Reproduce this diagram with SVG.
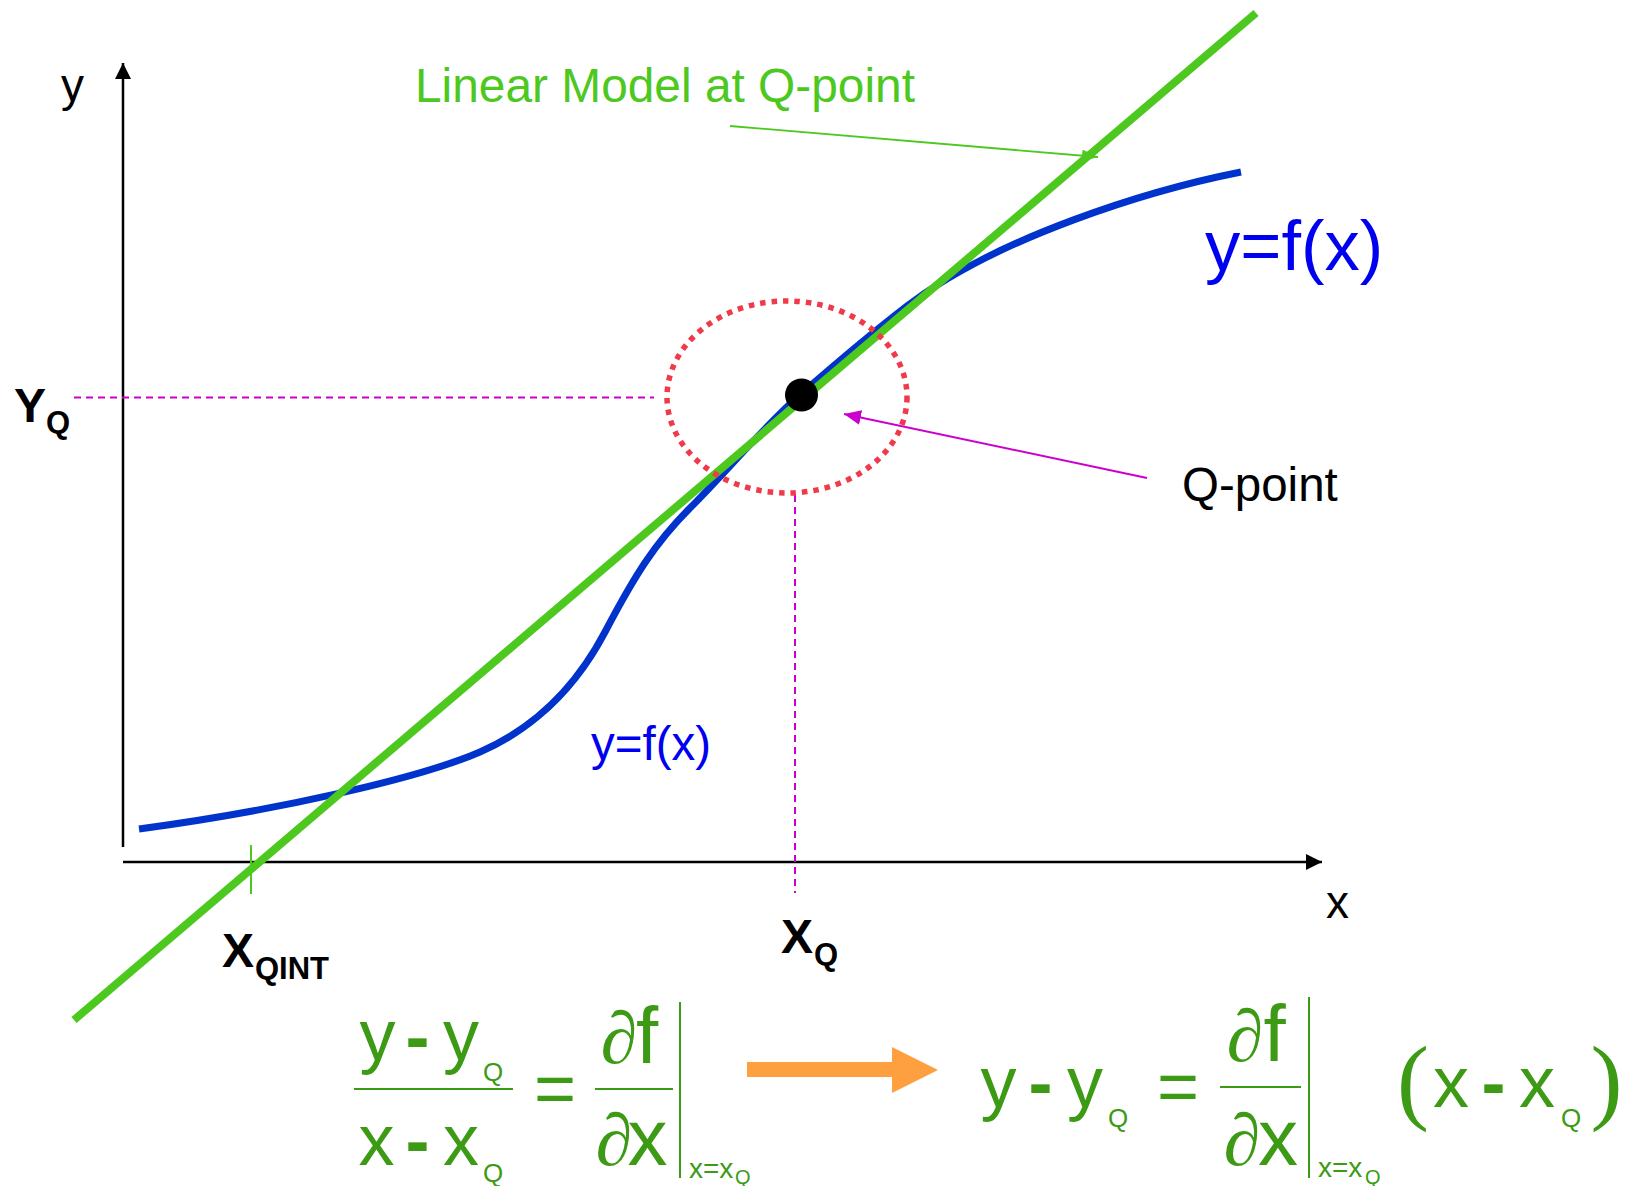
<svg xmlns="http://www.w3.org/2000/svg" width="1635" height="1186" viewBox="0 0 1635 1186">
<defs>
<style>
.lbl{font-family:"Liberation Sans",Arial,sans-serif;fill:#000}
.b{font-weight:bold}
.eq{font-family:"Liberation Sans",Arial,sans-serif;fill:#3D9A15;text-anchor:middle}
.dl{font-family:"Liberation Serif","Times New Roman",serif;fill:#3D9A15;text-anchor:middle}
.big{font-size:72px}
.d{font-size:80px}
.dp{font-size:74px}
.sub{font-size:26px}
.ev{font-family:"Liberation Sans",Arial,sans-serif;fill:#3D9A15;font-size:28px}
.evq{font-family:"Liberation Sans",Arial,sans-serif;fill:#3D9A15;font-size:20px}
.eqline{stroke:#3D9A15;stroke-width:2;fill:none}
.dash{stroke:#CC00CC;stroke-width:2;stroke-dasharray:7 5;fill:none}
.axis{stroke:#000;stroke-width:2.5;fill:none}
</style>
<marker id="arrBlack" markerUnits="userSpaceOnUse" viewBox="0 0 16 16" markerWidth="16" markerHeight="16" refX="16" refY="8" orient="auto"><path d="M0,0 L16,8 L0,16 z" fill="#000"/></marker>
<marker id="arrGreen" markerUnits="userSpaceOnUse" viewBox="0 0 16 12" markerWidth="16" markerHeight="12" refX="16" refY="6" orient="auto"><path d="M0,0 L16,6 L0,12 z" fill="#4CC81E"/></marker>
<marker id="arrMag" markerUnits="userSpaceOnUse" viewBox="0 0 17 15" markerWidth="17" markerHeight="15" refX="17" refY="7.5" orient="auto"><path d="M0,0 L17,7.5 L0,15 z" fill="#CC00CC"/></marker>
</defs>
<rect width="1635" height="1186" fill="#fff"/>

<g id="axes">
<line class="axis" x1="123" y1="847" x2="123" y2="63" marker-end="url(#arrBlack)"/>
<line class="axis" x1="123" y1="862" x2="1322" y2="862" marker-end="url(#arrBlack)"/>
<text class="lbl" x="61" y="101" font-size="46">y</text>
<text class="lbl" x="1326" y="918" font-size="46">x</text>
</g>

<g id="guides">
<line class="dash" x1="74" y1="397.5" x2="654" y2="397.5"/>
<line class="dash" x1="795" y1="495" x2="795" y2="893"/>
<line x1="251" y1="845" x2="251" y2="894" stroke="#4CC81E" stroke-width="2"/>
</g>

<g id="curve">
<path d="M139,829 C280,810 420,778 480,752 C510,739 565,708 605,632 C635,575 655,543 690,508 C725,473 766,424.6 801,394 C836,363.4 872,333 907,306 C997,237 1150,190 1241,172" fill="none" stroke="#0033CC" stroke-width="7"/>
</g>

<g id="linear-model">
<line x1="74" y1="1020" x2="1256" y2="13" stroke="#4CC81E" stroke-width="8"/>
</g>

<g id="q-region">
<ellipse cx="787" cy="397" rx="120" ry="96" fill="none" stroke="#F03A4C" stroke-width="5.5" stroke-dasharray="5.5 6"/>
</g>

<g id="q-point">
<circle cx="801.5" cy="395" r="16.5" fill="#000"/>
</g>

<g id="connectors">
<line x1="730" y1="126" x2="1098" y2="157" stroke="#4CC81E" stroke-width="1.8" marker-end="url(#arrGreen)"/>
<line x1="1147" y1="478" x2="844" y2="414" stroke="#CC00CC" stroke-width="2" marker-end="url(#arrMag)"/>
</g>

<g id="labels">
<text x="415" y="102" font-family="Liberation Sans, Arial, sans-serif" font-size="47.5" fill="#4CC81E" textLength="500" lengthAdjust="spacingAndGlyphs">Linear Model at Q-point</text>
<text class="lbl" x="1182" y="501" font-size="47.5">Q-point</text>
<text x="1205" y="270" font-family="Liberation Sans, Arial, sans-serif" font-size="70.5" fill="#0000F0">y=f(x)</text>
<text x="591" y="760" font-family="Liberation Sans, Arial, sans-serif" font-size="47.5" fill="#0000F0">y=f(x)</text>
<g id="label-yq"><text class="lbl b" x="14" y="422" font-size="48">Y</text><text class="lbl b" x="46" y="433" font-size="31">Q</text></g>
<g id="label-xqint"><text class="lbl b" x="222" y="967" font-size="48">X</text><text class="lbl b" x="255" y="979" font-size="31">QINT</text></g>
<g id="label-xq"><text class="lbl b" x="781" y="953" font-size="48">X</text><text class="lbl b" x="814" y="965" font-size="31">Q</text></g>
</g>

<g id="equation-left">
<text class="eq big" x="377.5" y="1060">y</text>
<text class="eq big b" x="417.5" y="1061">-</text>
<text class="eq big" x="461" y="1060">y</text>
<text class="eq sub" x="493" y="1081">Q</text>
<line class="eqline" x1="354" y1="1089" x2="513" y2="1089"/>
<text class="eq big" x="376.5" y="1165">x</text>
<text class="eq big b" x="417.5" y="1165">-</text>
<text class="eq big" x="461" y="1165">x</text>
<text class="eq sub" x="493" y="1182">Q</text>
<text class="eq big" x="555" y="1113">=</text>
<text class="dl dp" x="619" y="1063">∂</text>
<text class="eq d" x="647" y="1063">f</text>
<line class="eqline" x1="595" y1="1089" x2="673" y2="1089"/>
<text class="dl dp" x="614" y="1165">∂</text>
<text class="eq d" x="647.5" y="1165">x</text>
<line class="eqline" x1="680" y1="1002" x2="680" y2="1178"/>
<text class="ev" x="689" y="1178">x=x</text>
<text class="evq" x="735" y="1184">Q</text>
</g>

<g id="implies-arrow">
<polygon points="747,1062 892,1062 892,1047 938,1070 892,1093 892,1077 747,1077" fill="#FFA040"/>
</g>

<g id="equation-right">
<text class="eq big" x="998.5" y="1107">y</text>
<text class="eq big b" x="1040.5" y="1107">-</text>
<text class="eq big" x="1085" y="1107">y</text>
<text class="eq sub" x="1118" y="1127">Q</text>
<text class="eq big" x="1178" y="1111">=</text>
<text class="dl dp" x="1245" y="1061">∂</text>
<text class="eq d" x="1274.5" y="1061">f</text>
<line class="eqline" x1="1220" y1="1087" x2="1301" y2="1087"/>
<text class="dl dp" x="1242" y="1165">∂</text>
<text class="eq d" x="1278" y="1165">x</text>
<line class="eqline" x1="1309" y1="997" x2="1309" y2="1178"/>
<text class="ev" x="1318" y="1177">x=x</text>
<text class="evq" x="1365" y="1184">Q</text>
<text class="dl" x="1413" y="1112" font-size="96">(</text>
<text class="eq big" x="1451" y="1107">x</text>
<text class="eq big b" x="1493.5" y="1107">-</text>
<text class="eq big" x="1537" y="1107">x</text>
<text class="eq sub" x="1571" y="1127">Q</text>
<text class="dl" x="1606.5" y="1112" font-size="96">)</text>
</g>
</svg>
